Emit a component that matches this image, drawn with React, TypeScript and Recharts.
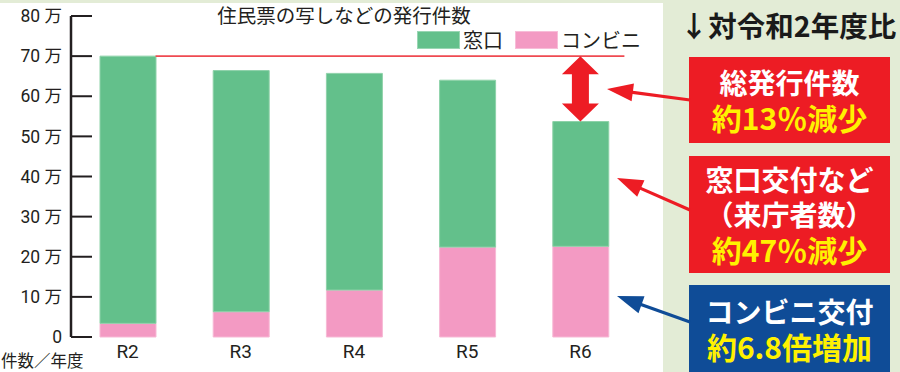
import React from 'react';
import { BarChart, Bar, XAxis, YAxis, ReferenceLine, Legend } from 'recharts';

const years = ['R2', 'R3', 'R4', 'R5', 'R6'];
const madoguchi = [66.6, 60.1, 54.0, 41.6, 31.1];
const konbini = [3.4, 6.3, 11.7, 22.4, 22.6];
const yTicks = [0, 10, 20, 30, 40, 50, 60, 70, 80];
const boundaryTicks = [0, 1, 2, 3, 4, 5];
const chartTitle = '住民票の写しなどの発行件数';
const axisNote = '件数／年度';
const panelTitle = '↓対令和2年度比';
const boxes = [
  { color: '#ed1c24', lines: [{ t: '総発行件数', c: '#ffffff' }, { t: '約13％減少', c: '#fff100' }] },
  { color: '#ed1c24', lines: [{ t: '窓口交付など', c: '#ffffff' }, { t: '（来庁者数）', c: '#ffffff' }, { t: '約47％減少', c: '#fff100' }] },
  { color: '#0f4c97', lines: [{ t: 'コンビニ交付', c: '#ffffff' }, { t: '約6.8倍増加', c: '#fff100' }] },
];

const data = years.map((y, i) => ({ year: y, konbini: konbini[i], madoguchi: madoguchi[i] }));
const totalFirst = madoguchi[0] + konbini[0];
const lastIdx = years.length - 1;
const totalLast = madoguchi[lastIdx] + konbini[lastIdx];

const GREEN = '#63c08b';
const PINK = '#f39ac3';
const INK = '#231f20';
const JP = '"Noto Sans CJK JP", "Noto Sans", sans-serif';

const RedLine = (p: any) => (
  <line x1={p.x1 + 28} y1={p.y1} x2={p.x2 + 44} y2={p.y2} stroke="#ef4a51" strokeWidth={1.6} />
);

const DoubleArrow = (p: any) => {
  const x = p.x1;
  const top = Math.min(p.y1, p.y2);
  const bot = Math.max(p.y1, p.y2);
  const hw = 18.5, sw = 8.5, hh = 18;
  const pts = [
    [x, top], [x + hw, top + hh], [x + sw, top + hh], [x + sw, bot - hh], [x + hw, bot - hh],
    [x, bot], [x - hw, bot - hh], [x - sw, bot - hh], [x - sw, top + hh], [x - hw, top + hh],
  ].map((q) => q.join(',')).join(' ');
  return <polygon points={pts} fill="#ed1c24" />;
};

const renderLegend = (props: any) => {
  const items = [...(props.payload || [])].reverse();
  return (
    <div style={{ display: 'flex', alignItems: 'center', fontFamily: JP }}>
      {items.map((it: any) => (
        <div key={it.value} style={{ display: 'flex', alignItems: 'center', marginRight: 12 }}>
          <span style={{ display: 'inline-block', width: 43, height: 18, background: it.color, boxSizing: 'border-box', border: '1px solid rgba(255,255,255,0.35)' }} />
          <span style={{ fontSize: 20, color: INK, marginLeft: 3, lineHeight: '20px' }}>{it.value}</span>
        </div>
      ))}
    </div>
  );
};

const Arrow = ({ tip, tail, color }: { tip: number[]; tail: number[]; color: string }) => {
  const dx = tail[0] - tip[0], dy = tail[1] - tip[1];
  const len = Math.hypot(dx, dy);
  const ux = dx / len, uy = dy / len;
  const hl = 26, hw = 9;
  const bx = tip[0] + ux * hl, by = tip[1] + uy * hl;
  const p1 = [bx - uy * hw, by + ux * hw];
  const p2 = [bx + uy * hw, by - ux * hw];
  return (
    <g>
      <line x1={bx - ux * 2} y1={by - uy * 2} x2={tail[0]} y2={tail[1]} stroke={color} strokeWidth={3.2} />
      <polygon points={`${tip[0]},${tip[1]} ${p1[0]},${p1[1]} ${p2[0]},${p2[1]}`} fill={color} />
    </g>
  );
};

export default function App() {
  const boxGeom = [
    { top: 57, height: 86 },
    { top: 156, height: 117 },
    { top: 285, height: 87 },
  ];
  return (
    <div style={{ position: 'absolute', left: 0, top: 0, width: 900, height: 372, background: '#e3ecd6', overflow: 'hidden', fontFamily: JP }}>
      <div style={{ position: 'absolute', left: 0, top: 3, width: 663, height: 369, background: '#ffffff' }} />
      <div style={{ position: 'absolute', left: 0, top: 0 }}>
        <BarChart width={663} height={372} data={data} margin={{ top: 16, right: 26, bottom: 5, left: 0 }}>
          <XAxis
            xAxisId="grid"
            type="number"
            domain={[0, 5]}
            ticks={boundaryTicks}
            tick={false}
            height={0}
            tickSize={-8}
            axisLine={{ stroke: INK, strokeWidth: 2.5 }}
            tickLine={{ stroke: INK, strokeWidth: 2 }}
          />
          <XAxis
            xAxisId="cat"
            dataKey="year"
            height={30}
            axisLine={false}
            tickLine={false}
            tickSize={0}
            tickMargin={8}
            tick={{ fontSize: 19, fill: INK, fontFamily: 'Roboto, ' + JP }}
          />
          <YAxis
            width={71}
            domain={[0, 80]}
            ticks={yTicks}
            interval={0}
            tickSize={-21}
            tickMargin={30}
            axisLine={{ stroke: INK, strokeWidth: 2.5 }}
            tickLine={{ stroke: INK, strokeWidth: 2 }}
            tick={{ fontSize: 17.5, fill: INK, fontFamily: 'Roboto, ' + JP }}
            tickFormatter={(v: number) => (v === 0 ? '0' : `${v} 万`)}
          />
          <Legend
            verticalAlign="middle"
            align="center"
            layout="horizontal"
            content={renderLegend}
            wrapperStyle={{ top: 30, left: 417, width: 'auto' }}
          />
          <Bar xAxisId="cat" dataKey="konbini" name="コンビニ" stackId="a" fill={PINK} stroke="#f7b9d5" strokeWidth={1} barSize={56} isAnimationActive={false} />
          <Bar xAxisId="cat" dataKey="madoguchi" name="窓口" stackId="a" fill={GREEN} stroke="#8ed2a9" strokeWidth={1} barSize={56} isAnimationActive={false} />
          <ReferenceLine
            xAxisId="cat"
            segment={[{ x: years[0], y: totalFirst }, { x: years[lastIdx], y: totalFirst }]}
            shape={RedLine}
          />
          <ReferenceLine
            xAxisId="cat"
            segment={[{ x: years[lastIdx], y: totalFirst }, { x: years[lastIdx], y: totalLast }]}
            shape={DoubleArrow}
          />
        </BarChart>
      </div>
      <div style={{ position: 'absolute', left: 213, top: 2, width: 262, textAlign: 'center', fontSize: 19.5, lineHeight: '26px', color: INK, whiteSpace: 'nowrap' }}>{chartTitle}</div>
      <div style={{ position: 'absolute', left: 1, top: 349, fontSize: 16.5, lineHeight: '22px', color: INK, whiteSpace: 'nowrap' }}>{axisNote}</div>
      <div style={{ position: 'absolute', left: 678, top: 6, width: 220, textAlign: 'center', fontSize: 28.5, fontWeight: 700, lineHeight: '38px', color: '#1a1a1a', whiteSpace: 'nowrap' }}>{panelTitle}</div>
      {boxes.map((b, i) => (
        <div key={i} style={{ position: 'absolute', left: 689, top: boxGeom[i].top, width: 201, height: boxGeom[i].height, background: b.color, display: 'flex', flexDirection: 'column', justifyContent: 'center', alignItems: 'center' }}>
          {b.lines.map((l, j) => (
            <div key={j} style={{ color: l.c, fontSize: j === b.lines.length - 1 ? 30 : 28, fontWeight: 700, lineHeight: '35px', height: 35, whiteSpace: 'nowrap' }}>{l.t}</div>
          ))}
        </div>
      ))}
      <svg width={900} height={372} style={{ position: 'absolute', left: 0, top: 0, pointerEvents: 'none' }}>
        <Arrow tip={[607, 89]} tail={[690, 100]} color="#ed1c24" />
        <Arrow tip={[617, 178]} tail={[690, 210]} color="#ed1c24" />
        <Arrow tip={[617, 296]} tail={[690, 322]} color="#0f4c97" />
      </svg>
    </div>
  );
}
